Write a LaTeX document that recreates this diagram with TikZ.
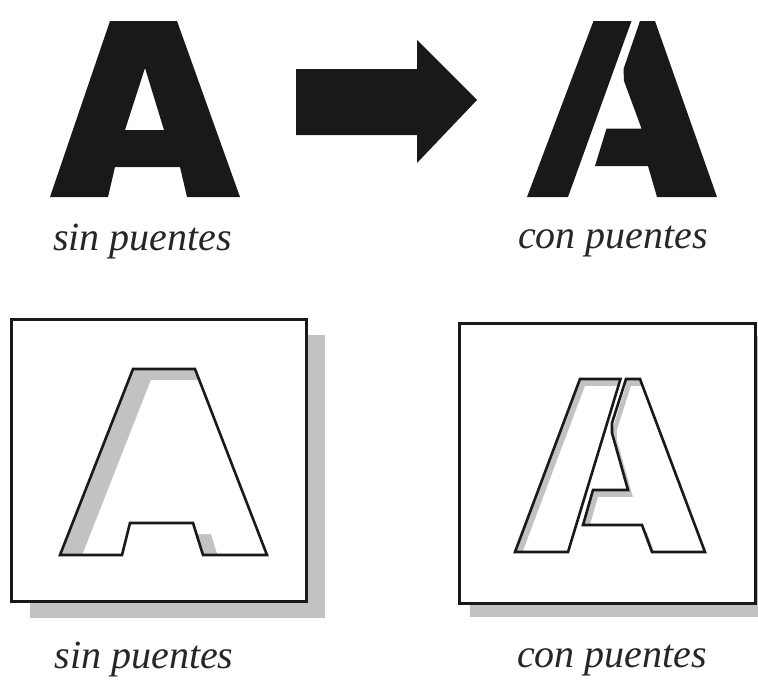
\documentclass[tikz,border=0pt]{standalone}
\usepackage{fontspec}
\setmainfont{Liberation Serif}
\usepackage{tikz}

% outlines of the letters (pixel units, y downwards)
\newcommand{\Asin}{(133,369) -- (195,369) -- (267,555) -- (203,555) -- (193,523) -- (130,523) -- (122,555) -- (60,555) -- cycle}
\newcommand{\AconL}{(580,379) -- (620.5,379) -- (568,552) -- (515,552) -- cycle}
\newcommand{\AconR}{(626,379) -- (640,379) -- (705,552) -- (652,552) -- (642,525) -- (583,525) -- (593,490) -- (628,490) -- (612,433) -- (612,423) -- cycle}

\tikzset{
	ink/.style={fill=black!90,draw=none},
	outline/.style={draw=black!90,line width=2.6pt,line join=miter},
	frame/.style={draw=black!90,line width=3pt,fill=white},
	shade/.style={fill=black!24},
	caption/.style={anchor=base,inner sep=0pt,text=black!85,font=\fontsize{40}{44}\selectfont\itshape}
}

\begin{document}
\begin{tikzpicture}[x=1pt,y=-1pt]
\useasboundingbox (0,0) rectangle (758,696);

% top row
\fill[ink,even odd rule] (110,21) -- (177,21) -- (240,197) -- (187,197) -- (180,167) -- (115,167) -- (108,197) -- (50,197) -- cycle
	(145,68) -- (125,130) -- (164,130) -- cycle;
\coordinate (T1) at (296,69);
\fill[ink] (T1) -- ++(121,0) -- ++(0,-29) -- ++(60,60) -- ++(-60,63) -- ++(0,-28) -- ++(-121,0) -- cycle;
\fill[ink] (593.5,21) -- (631.5,21) -- (568,197) -- (527,197) -- cycle;
\fill[ink] (640,21) -- (655,21) -- (717,197) -- (657,197) -- (648,166) -- (595,166) -- (606.5,128.5) -- (641.5,128.5) -- (624,81) -- (623.5,69) -- cycle;
\node[caption] (sinTop) at (142.5,250) {sin puentes};
\node[caption] (conTop) at (613,248) {con puentes};

% bottom row: sin puentes
\fill[shade] (30,335) rectangle (325,618);
\draw[frame] (11.5,319.5) rectangle (306.5,601.5);
\begin{scope}
	\clip \Asin;
	\fill[shade] \Asin;
	\fill[white,shift={(18,11)}] \Asin;
\end{scope}
\draw[outline] \Asin;
\node[caption] (sinBot) at (144,668) {sin puentes};

% bottom row: con puentes
\fill[shade] (470,336) rectangle (775,617);
\draw[frame] (459.5,323.5) rectangle (755.5,603.5);
\begin{scope}
	\clip \AconL \AconR;
	\fill[shade] \AconL \AconR;
	\fill[white,shift={(5,7)}] \AconL \AconR;
\end{scope}
\draw[outline] \AconL \AconR;
\node[caption] (conBot) at (612,667) {con puentes};
\end{tikzpicture}
\end{document}
